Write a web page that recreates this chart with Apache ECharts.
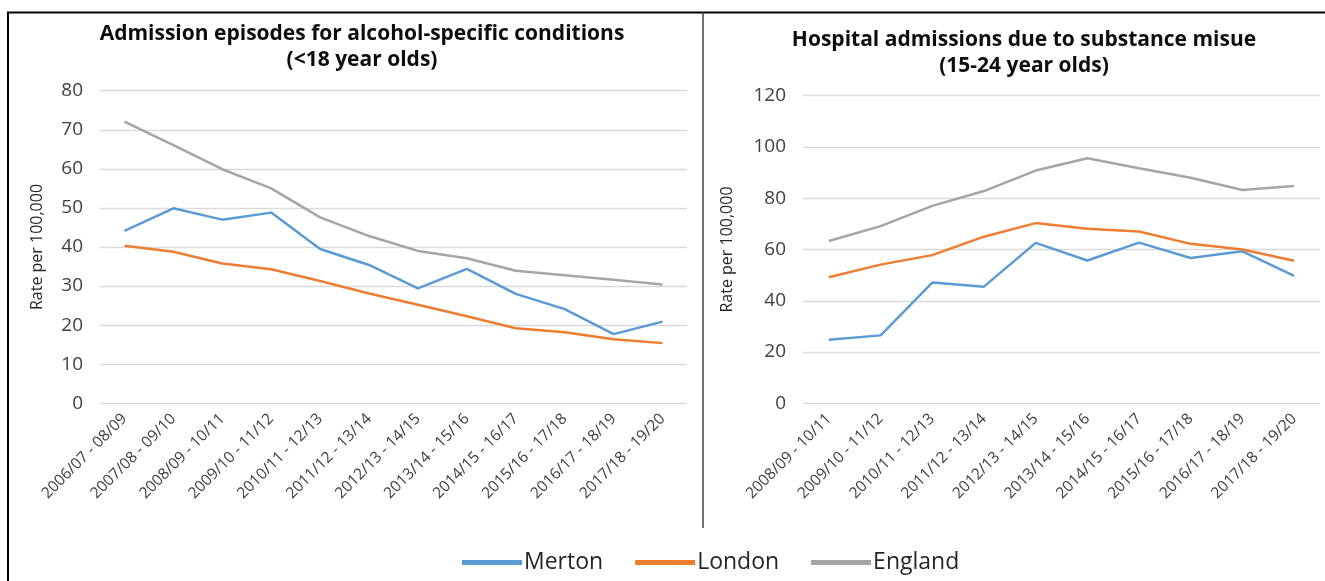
<!DOCTYPE html>
<html>
<head>
<meta charset="utf-8">
<script src="https://cdn.jsdelivr.net/npm/echarts@6/dist/echarts.min.js"></script>
<style>
html,body{margin:0;padding:0;background:#fff;}
#chart{width:1325px;height:581px;}
</style>
</head>
<body>
<div id="chart"></div>
<script>
// ---- Data ----
const leftCategories = ["2006/07 - 08/09","2007/08 - 09/10","2008/09 - 10/11","2009/10 - 11/12","2010/11 - 12/13","2011/12 - 13/14","2012/13 - 14/15","2013/14 - 15/16","2014/15 - 16/17","2015/16 - 17/18","2016/17 - 18/19","2017/18 - 19/20"];
const leftMerton  = [44.1, 49.9, 47.0, 48.8, 39.5, 35.4, 29.4, 34.4, 28.0, 24.1, 17.7, 20.9];
const leftLondon  = [40.3, 38.8, 35.8, 34.3, 31.3, 28.1, 25.2, 22.3, 19.2, 18.2, 16.4, 15.4];
const leftEngland = [72.1, 66.1, 59.9, 55.0, 47.6, 42.8, 39.0, 37.1, 33.9, 32.8, 31.6, 30.4];

const rightCategories = ["2008/09 - 10/11","2009/10 - 11/12","2010/11 - 12/13","2011/12 - 13/14","2012/13 - 14/15","2013/14 - 15/16","2014/15 - 16/17","2015/16 - 17/18","2016/17 - 18/19","2017/18 - 19/20"];
const rightMerton  = [24.8, 26.5, 47.1, 45.5, 62.6, 55.7, 62.7, 56.7, 59.3, 49.7];
const rightLondon  = [49.2, 54.1, 57.8, 65.0, 70.3, 68.1, 67.0, 62.2, 60.0, 55.6];
const rightEngland = [63.3, 69.1, 77.0, 82.8, 90.8, 95.6, 91.7, 88.0, 83.2, 84.8];

const leftTitle = "Admission episodes for alcohol-specific conditions\n(<18 year olds)";
const rightTitle = "Hospital admissions due to substance misue\n(15-24 year olds)";
const yName = "Rate per 100,000";
const seriesNames = ["Merton", "London", "England"];
const colors = ["#5B9BD5", "#ED7D31", "#A5A5A5"];

const FONT = "'Open Sans', sans-serif";
const chart = echarts.init(document.getElementById('chart'), null, {renderer: 'canvas'});

function yAxis(gridIndex, max, interval, nameGap) {
  return {
    type: 'value', gridIndex, min: 0, max, interval,
    name: yName, nameLocation: 'middle', nameGap, nameRotate: 90,
    nameTextStyle: {color: '#262626', fontSize: 16, fontFamily: FONT},
    axisLine: {show: false}, axisTick: {show: false},
    axisLabel: {color: '#404040', fontSize: 19, fontFamily: FONT, margin: 17},
    splitLine: {lineStyle: {color: '#D9D9D9', width: 1.3}}
  };
}
function xAxis(gridIndex, data) {
  return {
    type: 'category', gridIndex, data, boundaryGap: true,
    axisLine: {show: false}, axisTick: {show: false},
    axisLabel: {color: '#404040', fontSize: 15.5, fontFamily: FONT, rotate: 45, interval: 0, margin: 13}
  };
}
function line(name, data, idx, color) {
  return {
    name, type: 'line', data, xAxisIndex: idx, yAxisIndex: idx,
    symbol: 'none', smooth: false, color,
    lineStyle: {color, width: 2.5}
  };
}

chart.setOption({
  animation: false,
  backgroundColor: '#fff',
  title: [
    {text: leftTitle, left: 357, top: 16, textAlign: 'center',
     textStyle: {fontSize: 21, fontWeight: 'bold', color: '#0d0d0d', fontFamily: FONT, lineHeight: 26}},
    {text: rightTitle, left: 1019, top: 22, textAlign: 'center',
     textStyle: {fontSize: 21, fontWeight: 'bold', color: '#0d0d0d', fontFamily: FONT, lineHeight: 26}}
  ],
  legend: {
    data: seriesNames, left: 457, top: 546,
    icon: 'rect', itemWidth: 60, itemHeight: 5, itemGap: 32,
    textStyle: {fontSize: 23, color: '#262626', fontFamily: FONT, padding: [0,0,0,-3]}
  },
  grid: [
    {left: 100, top: 90.7, width: 587, height: 312.6},
    {left: 803, top: 95.7, width: 517, height: 307.6}
  ],
  xAxis: [xAxis(0, leftCategories), xAxis(1, rightCategories)],
  yAxis: [yAxis(0, 80, 10, 55), yAxis(1, 120, 20, 68)],
  series: [
    line(seriesNames[0], leftMerton, 0, colors[0]),
    line(seriesNames[1], leftLondon, 0, colors[1]),
    line(seriesNames[2], leftEngland, 0, colors[2]),
    line(seriesNames[0], rightMerton, 1, colors[0]),
    line(seriesNames[1], rightLondon, 1, colors[1]),
    line(seriesNames[2], rightEngland, 1, colors[2])
  ],
  graphic: [
    {type: 'polyline', silent: true, shape: {points: [[8, 600], [8, 12.5], [1330, 12.5]]},
     style: {stroke: '#000', lineWidth: 2, fill: null}},
    {type: 'line', silent: true, shape: {x1: 703, y1: 12, x2: 703, y2: 528},
     style: {stroke: '#404040', lineWidth: 1.5}}
  ]
});
</script>
</body>
</html>
